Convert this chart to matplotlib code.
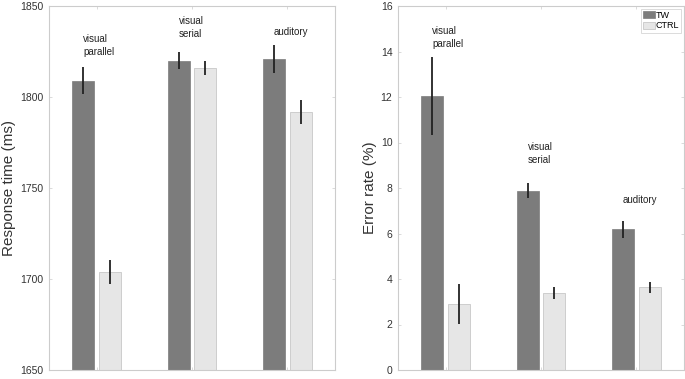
import numpy as np
import matplotlib.pyplot as plt

plt.rcParams['font.family'] = ['Liberation Sans', 'DejaVu Sans']

conds = ['visual\nparallel', 'visual\nserial', 'auditory']
groups = ['TW', 'CTRL']

rt_tw = [1809, 1820, 1821]
rt_tw_err = [7.3, 4.8, 7.6]
rt_ctrl = [1704, 1816, 1792]
rt_ctrl_err = [6.5, 4.0, 6.6]
rt_label_y = [1828.3, 1838.4, 1835.5]

er_tw = [12.05, 7.88, 6.18]
er_tw_err = [1.72, 0.33, 0.39]
er_ctrl = [2.9, 3.39, 3.64]
er_ctrl_err = [0.88, 0.25, 0.24]
er_label_y = [14.6, 9.5, 7.48]

dark = '#7c7c7c'
light = '#e6e6e6'
box = '#cccccc'

fig = plt.figure(figsize=(6.85, 3.79), dpi=100)
ax1 = fig.add_axes([49/685, 9/379, 286/685, 364/379])
ax2 = fig.add_axes([398/685, 9/379, 286/685, 364/379])

x = np.arange(1, 4)
w = 0.23
off = 0.14


def draw(ax, tw, tw_err, ctrl, ctrl_err, ylim, yticks, ylabel, label_y):
    ax.bar(x - off, tw, w, color=dark, edgecolor=dark, linewidth=0.5,
           label='TW', zorder=2)
    ax.bar(x + off, ctrl, w, color=light, edgecolor='#c8c8c8', linewidth=0.6,
           label='CTRL', zorder=2)
    ax.errorbar(x - off, tw, yerr=tw_err, fmt='none', ecolor='#222222',
                elinewidth=1.3, capsize=0, zorder=3)
    ax.errorbar(x + off, ctrl, yerr=ctrl_err, fmt='none', ecolor='#222222',
                elinewidth=1.3, capsize=0, zorder=3)
    for i, c in enumerate(conds):
        ax.text(x[i] - off, label_y[i], c, fontsize=7, ha='left',
                va='center', color='#222222', linespacing=1.4)
    ax.set_xlim(0.5, 3.5)
    ax.set_ylim(*ylim)
    ax.set_yticks(yticks)
    ax.set_xticks(x)
    ax.set_xticklabels([])
    ax.tick_params(direction='in', length=2.5, width=0.5, color=box,
                   labelsize=7.5, labelcolor='#333333',
                   top=True, right=True, pad=4)
    for s in ax.spines.values():
        s.set_color(box)
        s.set_linewidth(0.8)
    ax.set_ylabel(ylabel, fontsize=11, color='#333333', labelpad=3)


draw(ax1, rt_tw, rt_tw_err, rt_ctrl, rt_ctrl_err, (1650, 1850),
     np.arange(1650, 1851, 50), 'Response time (ms)', rt_label_y)
draw(ax2, er_tw, er_tw_err, er_ctrl, er_ctrl_err, (0, 16),
     np.arange(0, 17, 2), 'Error rate (%)', er_label_y)

leg = ax2.legend(loc='upper right', fontsize=6.5, frameon=True, fancybox=False,
                 handlelength=1.3, handleheight=0.8, handletextpad=0.1,
                 borderpad=0.25, labelspacing=0.15, borderaxespad=0.3)
leg.get_frame().set_edgecolor(box)
leg.get_frame().set_linewidth(0.6)

fig.savefig('out.png', dpi=100)
